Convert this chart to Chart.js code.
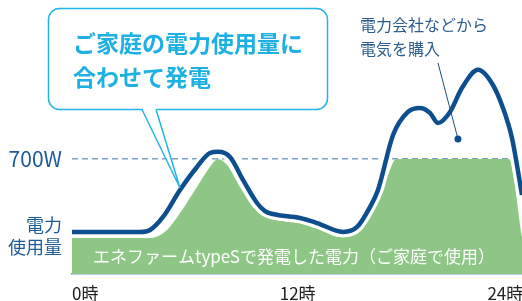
<!DOCTYPE html>
<html lang="ja">
<head>
<meta charset="utf-8">
<script src="https://cdn.jsdelivr.net/npm/chart.js@4.4.1/dist/chart.umd.min.js"></script>
<style>
  html, body { margin: 0; padding: 0; background: #fff; }
  #chart { display: block; }
</style>
</head>
<body>
<canvas id="chart" width="522" height="301"></canvas>
<script>
// hours of day vs household power use (W)
const usageHours = [0, 3.93, 4.51, 5.26, 6.24, 7.22, 7.97, 8.44, 9.13, 9.88, 10.69, 11.15, 11.61, 13.17, 14.16, 15.66, 16.47, 17.22, 17.68, 18.55, 19.41, 20.1, 20.68, 21.15, 21.84, 22.53, 23.46, 24.32, 24.9, 25.42, 25.71, 26];
const usageWatts = [256, 256, 268, 347, 511, 651, 736, 743, 712, 572, 432, 383, 365, 341, 310, 256, 286, 408, 511, 846, 986, 1010, 980, 919, 986, 1132, 1242, 1150, 1010, 828, 663, 480];

// power generated by the fuel cell (capped at 700W)
const genHours = [0, 4.51, 5.49, 6.24, 7.22, 7.97, 8.44, 8.96, 9.71, 10.46, 10.98, 11.56, 13.17, 14.16, 15.48, 16.47, 17.22, 17.68, 18.26, 18.72, 25.25, 26];
const genWatts = [219, 219, 268, 371, 530, 651, 700, 663, 530, 408, 359, 335, 310, 280, 225, 250, 371, 450, 603, 700, 700, 225];

const xTicks = [0, 12, 24];
const maxLine = 700;
const usageTick = 231;

const calloutLines = ['ご家庭の電力使用量に', '合わせて発電'];
const buyLines = ['電力会社などから', '電気を購入'];
const areaLabel = 'エネファームtypeSで発電した電力（ご家庭で使用）';

const FONT = '"Noto Sans CJK JP", "Noto Sans", sans-serif';
const toXY = (xs, ys) => xs.map((x, i) => ({ x: x, y: ys[i] }));

const notes = {
  id: 'notes',
  afterDatasetsDraw(chart) {
    const ctx = chart.ctx;
    const xs = chart.scales.x, ys = chart.scales.y;
    ctx.save();

    // text inside the green area
    ctx.fillStyle = '#ffffff';
    ctx.font = '17px ' + FONT;
    ctx.textBaseline = 'middle';
    ctx.textAlign = 'left';
    ctx.fillText(areaLabel, 93, 257);

    // callout box
    const tipX = xs.getPixelForValue(6.24), tipY = ys.getPixelForValue(523);
    ctx.lineWidth = 1.5;
    ctx.strokeStyle = '#22b5e8';
    ctx.fillStyle = '#ffffff';
    ctx.beginPath();
    ctx.roundRect(48.5, 8.5, 279, 101, 11);
    ctx.fill();
    ctx.stroke();
    ctx.beginPath();
    ctx.moveTo(142, 108);
    ctx.lineTo(tipX, tipY);
    ctx.lineTo(156, 108);
    ctx.closePath();
    ctx.fill();
    ctx.beginPath();
    ctx.moveTo(142, 109.5);
    ctx.lineTo(tipX, tipY);
    ctx.lineTo(156, 109.5);
    ctx.stroke();

    ctx.fillStyle = '#1cb0e3';
    ctx.font = 'bold 23px ' + FONT;
    ctx.fillText(calloutLines[0], 73, 43);
    ctx.fillText(calloutLines[1], 73, 77);

    // bought-power note with leader
    ctx.fillStyle = '#2d5d8e';
    ctx.font = '16px ' + FONT;
    ctx.fillText(buyLines[0], 360, 25);
    ctx.fillText(buyLines[1], 360, 49);
    const dotX = xs.getPixelForValue(22.3), dotY = ys.getPixelForValue(822);
    ctx.strokeStyle = '#1a4f86';
    ctx.lineWidth = 1;
    ctx.beginPath();
    ctx.moveTo(438, 63);
    ctx.lineTo(dotX, dotY);
    ctx.stroke();
    ctx.fillStyle = '#0d4e8e';
    ctx.beginPath();
    ctx.arc(dotX, dotY, 3.5, 0, Math.PI * 2);
    ctx.fill();

    ctx.restore();
  }
};

new Chart(document.getElementById('chart'), {
  type: 'line',
  data: {
    datasets: [
      {
        data: toXY(usageHours, usageWatts),
        borderColor: '#0d4e8e',
        borderWidth: 4.5,
        pointRadius: 0,
        fill: false,
        cubicInterpolationMode: 'monotone',
        clip: 0
      },
      {
        // white halo around the usage line
        data: toXY(usageHours, usageWatts),
        borderColor: '#ffffff',
        borderWidth: 11,
        pointRadius: 0,
        fill: false,
        cubicInterpolationMode: 'monotone',
        clip: 0
      },
      {
        data: toXY(genHours, genWatts),
        borderWidth: 0,
        borderColor: 'rgba(0,0,0,0)',
        backgroundColor: '#8dc685',
        pointRadius: 0,
        fill: 'origin',
        cubicInterpolationMode: 'monotone',
        clip: 0
      }
    ]
  },
  options: {
    responsive: false,
    animation: false,
    devicePixelRatio: 1,
    layout: { padding: { top: 11, left: 0, right: 0, bottom: 0 } },
    plugins: { legend: { display: false }, tooltip: { enabled: false } },
    scales: {
      x: {
        type: 'linear',
        min: 0,
        max: 26,
        afterFit: (s) => { s.height = 27; s.paddingLeft = 0; s.paddingRight = 0; },
        afterBuildTicks: (s) => { s.ticks = xTicks.map(v => ({ value: v })); },
        grid: { color: 'rgba(0,0,0,0)', drawTicks: false },
        border: { display: true, color: '#6a9ccf', width: 1.5 },
        ticks: {
          align: 'start',
          padding: 9,
          color: '#222222',
          font: { family: FONT, size: 17 },
          callback: (v) => v + '時'
        }
      },
      y: {
        min: 0,
        max: 1600,
        afterFit: (s) => { s.width = 72; s.paddingTop = 0; s.paddingBottom = 0; },
        afterBuildTicks: (s) => { s.ticks = [{ value: usageTick }, { value: maxLine }]; },
        grid: {
          drawTicks: false,
          lineWidth: 1.5,
          color: (c) => c.tick && c.tick.value === maxLine ? '#7aa0c8' : 'rgba(0,0,0,0)'
        },
        border: { display: false, dash: [6, 4] },
        ticks: {
          padding: 10,
          color: '#1b5b97',
          font: (c) => c.tick && c.tick.value === maxLine ? { family: FONT, size: 21 } : { family: FONT, size: 18, lineHeight: 1.2 },
          callback: (v) => v === maxLine ? '700W' : ['電力', '使用量']
        }
      }
    }
  },
  plugins: [notes]
});
</script>
</body>
</html>
